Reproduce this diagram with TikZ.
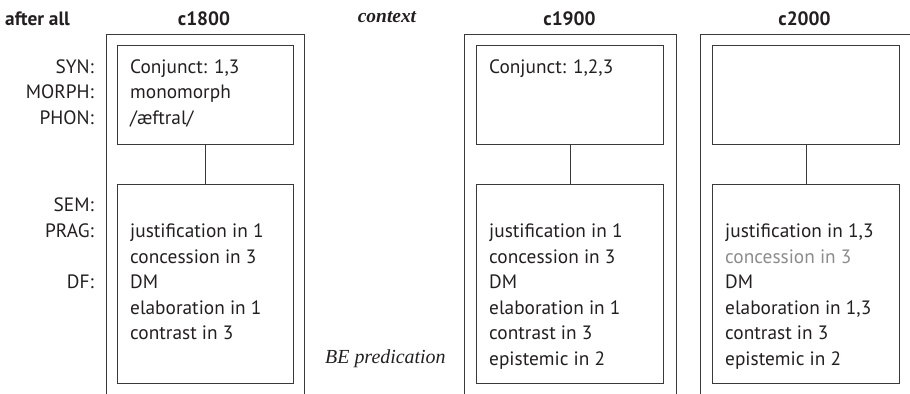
\documentclass[tikz,border=0pt]{standalone}
\usepackage{fontspec}
\setmainfont{PT Sans}
\newfontfamily\seriffont{Liberation Serif}
\definecolor{ink}{HTML}{231F20}
\definecolor{rule}{HTML}{3A3A3A}
\definecolor{faded}{HTML}{8C8C8C}
\begin{document}
\begin{tikzpicture}[x=1bp,y=-1bp,
  frame/.style={draw=rule,line width=1bp},
  fbox/.style={draw=rule,line width=1bp,rectangle,inner sep=0pt,anchor=north west},
  body/.style={font=\fontsize{19.4}{19.4}\selectfont,text=ink,inner sep=0pt,anchor=base west},
  lbl/.style={font=\fontsize{19.4}{19.4}\selectfont,text=ink,inner sep=0pt,anchor=base east},
  head/.style={font=\fontsize{19.4}{19.4}\selectfont\bfseries,text=ink,inner sep=0pt,anchor=base},
  link/.style={draw=rule,line width=1bp}]
\useasboundingbox (0,0) rectangle (910,393);

% headers
\node[head,anchor=base west] (hAfter) at (5,25) {after all};
\node[head] (h1800) at (204,25) {c1800};
\node[font=\fontsize{19.5}{19.5}\selectfont\seriffont\bfseries\itshape,text=ink,inner sep=0pt,anchor=base] (hContext) at (387,22) {context};
\node[head] (h1900) at (569.5,25) {c1900};
\node[head] (h2000) at (804.5,25) {c2000};

% outer frames, open at the bottom
\draw[frame] (106,395) -- (106,34) -- (304,34) -- (304,395);
\draw[frame] (464,395) -- (464,34) -- (676,34) -- (676,395);
\draw[frame] (700,395) -- (700,34) -- (912,34);

% form boxes and meaning boxes
\node[fbox,minimum width=176bp,minimum height=99bp] (f1) at (117,45) {};
\node[fbox,minimum width=176bp,minimum height=199bp] (m1) at (117,184) {};
\node[fbox,minimum width=187bp,minimum height=99bp] (f2) at (476,45) {};
\node[fbox,minimum width=187bp,minimum height=199bp] (m2) at (476,184) {};
\node[fbox,minimum width=187bp,minimum height=99bp] (f3) at (712,45) {};
\node[fbox,minimum width=187bp,minimum height=199bp] (m3) at (712,184) {};
\draw[link] (f1.south) -- (m1.north);
\draw[link] (f2.south) -- (m2.north);
\draw[link] (f3.south) -- (m3.north);

% level labels
\node[lbl] (lSyn) at (94,73) {SYN:};
\node[lbl] (lMorph) at (94,98.6) {MORPH:};
\node[lbl] (lPhon) at (94,124.2) {PHON:};
\node[lbl] (lSem) at (94,211.9) {SEM:};
\node[lbl] (lPrag) at (94,237.5) {PRAG:};
\node[lbl] (lDf) at (94,288.7) {DF:};

% form contents
\foreach \s [count=\i from 0] in {{Conjunct: 1,3},monomorph,/æftral/}
  \node[body] (fa\i) at (130,73+25.6*\i) {\s};
\node[body] (fb0) at (489,73) {Conjunct: 1,2,3};

% meaning contents
\foreach \s [count=\i from 0] in {justification in 1,concession in 3,DM,elaboration in 1,contrast in 3}
  \node[body] (ma\i) at (130,237.5+25.6*\i) {\s};
\foreach \s [count=\i from 0] in {justification in 1,concession in 3,DM,elaboration in 1,contrast in 3,epistemic in 2}
  \node[body] (mb\i) at (489,237.5+25.6*\i) {\s};
\foreach \s/\c [count=\i from 0] in {{justification in 1,3}/ink,concession in 3/faded,DM/ink,{elaboration in 1,3}/ink,contrast in 3/ink,epistemic in 2/ink}
  \node[body,text=\c] (mc\i) at (725,237.5+25.6*\i) {\s};

% context note
\node[font=\fontsize{20}{20}\selectfont\seriffont\itshape,text=ink,inner sep=0pt,anchor=base west] (beNote) at (325,363) {BE predication};
\end{tikzpicture}
\end{document}
